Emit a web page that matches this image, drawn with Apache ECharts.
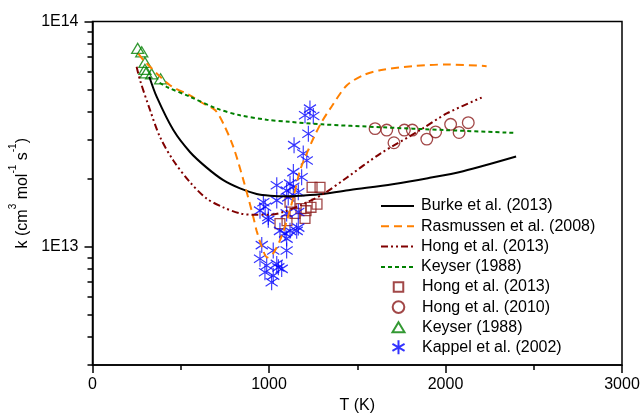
<!DOCTYPE html>
<html><head><meta charset="utf-8">
<script src="https://cdn.jsdelivr.net/npm/echarts@6/dist/echarts.min.js"></script>
<style>html,body{margin:0;padding:0;background:#fff}#c{width:644px;height:419px}</style>
</head><body><div id="c"></div>
<script>
// ---- data (T in K, k in cm3 mol-1 s-1) ----
const burkeT = [322,364,458,552,647,741,836,930,1006,1100,1176,1308,1459,1700,1900,2100,2400];
const burkeK = [5.69e13,4.63e13,3.30e13,2.64e13,2.25e13,1.98e13,1.82e13,1.72e13,1.69e13,1.68e13,1.69e13,1.72e13,1.79e13,1.90e13,2.02e13,2.17e13,2.52e13];

const rasT = [260,288,439,552,628,694,741,798,855,911,930,960,990,1020,1062,1100,1138,1176,1214,1251,1299,1355,1440,1534,1629,1818,2007,2233];
const rasK = [7.2e13,6.75e13,5.22e13,4.71e13,4.33e13,4.05e13,3.53e13,2.78e13,1.98e13,1.36e13,1.18e13,1.0e13,9.0e12,9.3e12,1.07e13,1.30e13,1.66e13,2.19e13,2.60e13,3.03e13,3.59e13,4.2e13,5.2e13,5.78e13,6.08e13,6.34e13,6.45e13,6.34e13];

const hongModelT = [250,269,326,382,458,552,647,741,836,911,1000,1081,1200,1308,1440,1629,1856,2007,2205];
const hongModelK = [6.3e13,5.5e13,4.05e13,3.08e13,2.42e13,1.94e13,1.64e13,1.50e13,1.41e13,1.39e13,1.39e13,1.43e13,1.56e13,1.72e13,2.03e13,2.59e13,3.30e13,3.91e13,4.60e13];

const keyserModelT = [380,420,552,704,836,987,1119,1300,1629,2000,2384];
const keyserModelK = [5.35e13,5.13e13,4.64e13,4.11e13,3.84e13,3.67e13,3.59e13,3.50e13,3.40e13,3.30e13,3.21e13];

const hong2013T = [1244,1289,1272,1238,1210,1181,1119,1204,1102,1062,1147];
const hong2013K = [1.84e13,1.84e13,1.55e13,1.50e13,1.45e13,1.48e13,1.58e13,1.34e13,1.31e13,1.27e13,1.41e13];

const hong2010T = [1601,1667,1708,1767,1812,1894,1944,2029,2077,2129];
const hong2010K = [3.35e13,3.30e13,2.90e13,3.30e13,3.30e13,3.01e13,3.24e13,3.50e13,3.22e13,3.56e13];

const keyserT = [256,279,297,297,303,335,386];
const keyserK = [7.60e13,7.34e13,6.59e13,6.14e13,5.92e13,5.86e13,5.57e13];

const kappelT = [1232,1204,1251,1223,1142,1194,1214,1138,1185,1044,1119,1138,1100,1166,968,1044,1109,996,949,1100,1166,1062,1119,1157,1100,959,1024,1100,949,987,1044,1072,977,1024,1015,1053,1166,978,996,1091];
const kappelK = [4.11e13,3.84e13,3.81e13,3.18e13,2.83e13,2.60e13,2.42e13,2.15e13,2.04e13,1.88e13,1.91e13,1.85e13,1.78e13,1.75e13,1.58e13,1.61e13,1.66e13,1.36e13,1.45e13,1.41e13,1.43e13,1.18e13,1.18e13,1.18e13,1.09e13,1.02e13,9.65e12,9.65e12,8.87e12,8.28e12,8.42e12,8.0e12,7.73e12,7.47e12,6.98e12,8.13e12,1.22e13,1.51e13,1.32e13,1.15e13];

const xTicks = [0,1000,2000,3000];
const yLabelExp = [13,14];

// ---- build ----
const FONT = 'Liberation Sans, Arial, sans-serif';
const yMin = Math.log10(3e12), yMax = 14;
const pairs = (t,k) => t.map((v,i)=>[v, Math.log10(k[i])]);
const minorVals = [];
for (let e = 12; e <= 13; e++) for (let m = 2; m <= 9; m++) {
  const v = e + Math.log10(m);
  if (v >= yMin - 1e-9 && v <= yMax) minorVals.push(v);
}
// symbols with invisible padding (move-to corners) so legend icons keep reference proportions
const symAsterisk = 'path://M0,-10L0,10M-8.66,-5L8.66,5M-8.66,5L8.66,-5';
const symSquare = 'path://M-1.47,-1.47M-1,-1L1,-1L1,1L-1,1ZM1.47,1.47';
const symCircle = 'path://M-1.2,-1.2M-1,0A1,1 0 1,1 1,0A1,1 0 1,1 -1,0ZM1.2,1.2';
const symTriangle = 'path://M-1,-1M0,-0.72L0.86,0.72L-0.86,0.72ZM1,1';
const wine = '#8B1A1A';
const noSym = {opacity: 0};
const legendText = {fontSize: 16, color: '#000', fontFamily: FONT, padding: [0,0,0,2]};

const chart = echarts.init(document.getElementById('c'));
chart.setOption({
  animation: false,
  textStyle: {fontFamily: FONT},
  grid: {left: 92.5, right: 22, top: 21.5, bottom: 54, show: true, borderColor: '#000', borderWidth: 1.5, backgroundColor: 'transparent'},
  legend: [{
    orient: 'vertical', left: 375, top: 193, itemWidth: 33, itemHeight: 14, itemGap: 4.3,
    textStyle: legendText,
    data: [
      {name: 'Burke et al. (2013)', itemStyle: noSym},
      {name: 'Rasmussen et al. (2008)', itemStyle: noSym},
      {name: 'Hong et al. (2013) ', itemStyle: noSym},
      {name: 'Keyser (1988) ', itemStyle: noSym}]
  }, {
    orient: 'vertical', left: 384, top: 272.5, itemWidth: 33, itemHeight: 14, itemGap: 1.1,
    symbolKeepAspect: true,
    textStyle: legendText,
    data: ['Hong et al. (2013)','Hong et al. (2010)','Keyser (1988)','Kappel et al. (2002)']
  }],
  xAxis: {
    type: 'value', min: xTicks[0], max: xTicks[xTicks.length-1], interval: 1000,
    axisLine: {lineStyle: {color: '#000', width: 1.5}},
    axisTick: {length: 8, lineStyle: {color: '#000', width: 1.5}},
    minorTick: {show: true, splitNumber: 2, length: 5, lineStyle: {color: '#000', width: 1.5}},
    splitLine: {show: false},
    axisLabel: {fontSize: 16, color: '#000', margin: 12, fontFamily: FONT, formatter: v => String(v)},
    name: 'T (K)', nameLocation: 'middle', nameGap: 32,
    nameTextStyle: {fontSize: 16, color: '#000', fontFamily: FONT}
  },
  yAxis: [{
    type: 'value', min: yMin, max: yMax, position: 'left',
    axisLine: {show: true, lineStyle: {color: '#000', width: 1.5}},
    axisTick: {show: true, length: 8, customValues: yLabelExp, lineStyle: {color: '#000', width: 1.5}},
    axisLabel: {fontSize: 16, color: '#000', margin: 14, fontFamily: FONT, customValues: yLabelExp,
      formatter: v => '1E' + Math.round(v)},
    splitLine: {show: false},
    name: '{a|k (cm}{b|3}{a| mol}{b|-1}{a| s}{b|-1}{a|)}',
    nameLocation: 'middle', nameRotate: 90, nameGap: 56,
    nameTextStyle: {color: '#000', fontFamily: FONT, rich: {
      a: {fontSize: 16, color: '#000', fontFamily: FONT, lineHeight: 22, verticalAlign: 'bottom'},
      b: {fontSize: 10, color: '#000', fontFamily: FONT, lineHeight: 12, verticalAlign: 'top'}
    }}
  }, {
    type: 'value', min: yMin, max: yMax, position: 'left',
    axisLine: {show: false},
    axisTick: {show: true, length: 5, customValues: minorVals, lineStyle: {color: '#000', width: 1.5}},
    axisLabel: {show: false},
    splitLine: {show: false}
  }],
  series: [
    {name: 'Burke et al. (2013)', type: 'line', symbol: 'none', smooth: 0.3, data: pairs(burkeT, burkeK),
      lineStyle: {color: '#000', width: 2}, itemStyle: {color: '#000'}},
    {name: 'Rasmussen et al. (2008)', type: 'line', symbol: 'none', smooth: 0.3, data: pairs(rasT, rasK),
      lineStyle: {color: '#FF8000', width: 2, type: [8,5]}, itemStyle: {color: '#FF8000'}},
    {name: 'Hong et al. (2013) ', type: 'line', symbol: 'none', smooth: 0.3, data: pairs(hongModelT, hongModelK),
      lineStyle: {color: '#800000', width: 2, type: [7,3,2,3,2,3]}, itemStyle: {color: '#800000'}},
    {name: 'Keyser (1988) ', type: 'line', symbol: 'none', smooth: 0.3, data: pairs(keyserModelT, keyserModelK),
      lineStyle: {color: '#008000', width: 2, type: [4,3]}, itemStyle: {color: '#008000'}},
    {name: 'Hong et al. (2013)', type: 'scatter', symbol: symSquare, symbolSize: 14.5, symbolKeepAspect: true, data: pairs(hong2013T, hong2013K),
      itemStyle: {color: 'none', borderColor: wine, borderWidth: 1.3}},
    {name: 'Hong et al. (2010)', type: 'scatter', symbol: symCircle, symbolSize: 14, symbolKeepAspect: true, data: pairs(hong2010T, hong2010K),
      itemStyle: {color: 'none', borderColor: wine, borderWidth: 1.3}},
    {name: 'Keyser (1988)', type: 'scatter', symbol: symTriangle, symbolSize: 14, symbolKeepAspect: true, data: pairs(keyserT, keyserK),
      itemStyle: {color: 'none', borderColor: '#008000', borderWidth: 1.3}},
    {name: 'Kappel et al. (2002)', type: 'scatter', symbol: symAsterisk, symbolSize: [14,16], symbolKeepAspect: true, data: pairs(kappelT, kappelK),
      itemStyle: {color: 'none', borderColor: '#0000FF', borderWidth: 1.2}}
  ]
});
</script></body></html>
